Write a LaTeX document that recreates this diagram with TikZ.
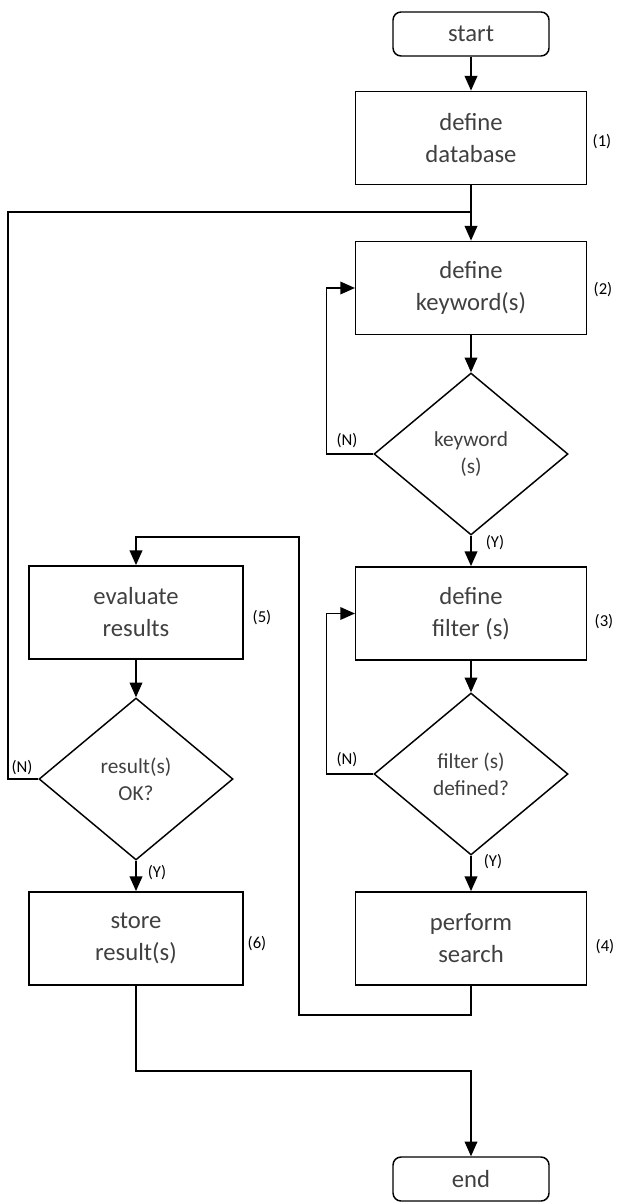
\documentclass[tikz,border=0pt]{standalone}
\usepackage{fontspec}
\setmainfont{Carlito}
\usetikzlibrary{shapes.geometric,arrows.meta}
\definecolor{txtgray}{HTML}{404040}

\begin{document}
\begin{tikzpicture}[x=0.75pt,y=-0.75pt,line width=1.1pt,
        arr/.style={-{Triangle[length=11pt,width=9.5pt]}},
        term/.style={draw,rounded corners=6pt,minimum width=117pt,minimum height=33pt,text=txtgray,font=\fontsize{18.5}{24}\selectfont},
        proc/.style={draw,minimum width=173pt,minimum height=70pt,align=center,text=txtgray,font=\fontsize{18.5}{24}\selectfont},
        procl/.style={proc,minimum width=160.5pt},
        decide/.style={draw,diamond,inner sep=0pt,minimum width=145.5pt,minimum height=121.5pt,align=center,text=txtgray,font=\fontsize{16}{20}\selectfont},
        num/.style={font=\fontsize{12.5}{14}\selectfont}]
        \useasboundingbox (0,0) rectangle (619,1202);
        % right column
        \node[term] (start) at (471,34) {start};
        \node[proc] (db) at (471,138) {define\\database};
        \node[proc] (kw) at (471,288) {define\\keyword(s)};
        \node[decide] (kwq) at (471,454) {keyword\\(s)};
        \node[proc] (flt) at (471,613.5) {define\\filter (s)};
        \node[decide] (fltq) at (471,774) {filter (s)\\defined?};
        \node[proc] (srch) at (471,938.5) {perform\\search};
        \node[term] (end) at (471,1179) {end};
        % left column
        \node[procl] (eval) at (136,612.5) {evaluate\\results};
        \node[decide] (resq) at (136,779) {result(s)\\OK?};
        \node[procl] (store) at (136,938.5) {store\\result(s)};
        % step numbers
        \node[num] (n1) at (602,142) {(1)};
        \node[num] (n2) at (603,290) {(2)};
        \node[num] (n3) at (604,622) {(3)};
        \node[num] (n4) at (605,947) {(4)};
        \node[num] (n5) at (262,618) {(5)};
        \node[num] (n6) at (257,944) {(6)};
        % answers
        \node[num] (kwn) at (347,441) {(N)};
        \node[num] (kwy) at (495,543) {(Y)};
        \node[num] (fltn) at (347,760) {(N)};
        \node[num] (flty) at (493,862) {(Y)};
        \node[num] (resn) at (22,768) {(N)};
        \node[num] (resy) at (157,873) {(Y)};
        \coordinate (join) at (471,212);
        \coordinate (loopl) at (8,212);
        \coordinate (back) at (299,537);
        % connectors
        \draw[arr] (start) -- (db);
        \draw[arr] (db) -- (kw);
        \draw[arr] (kw) -- (kwq);
        \draw[arr] (kwq.west) -- ++(-47,0) |- (kw.west);
        \draw[arr] (kwq) -- (flt);
        \draw[arr] (flt) -- (fltq);
        \draw[arr] (fltq.west) -- ++(-47,0) |- (flt.west);
        \draw[arr] (fltq) -- (srch);
        \draw[arr] (srch.south) -- ++(0,29) -| (back) -| (eval.north);
        \draw[arr] (eval) -- (resq);
        \draw (resq.west) -| (loopl) -- (join);
        \draw[arr] (resq) -- (store);
        \draw[arr] (store.south) -- ++(0,85) -| (end.north);
    \end{tikzpicture}
\end{document}
